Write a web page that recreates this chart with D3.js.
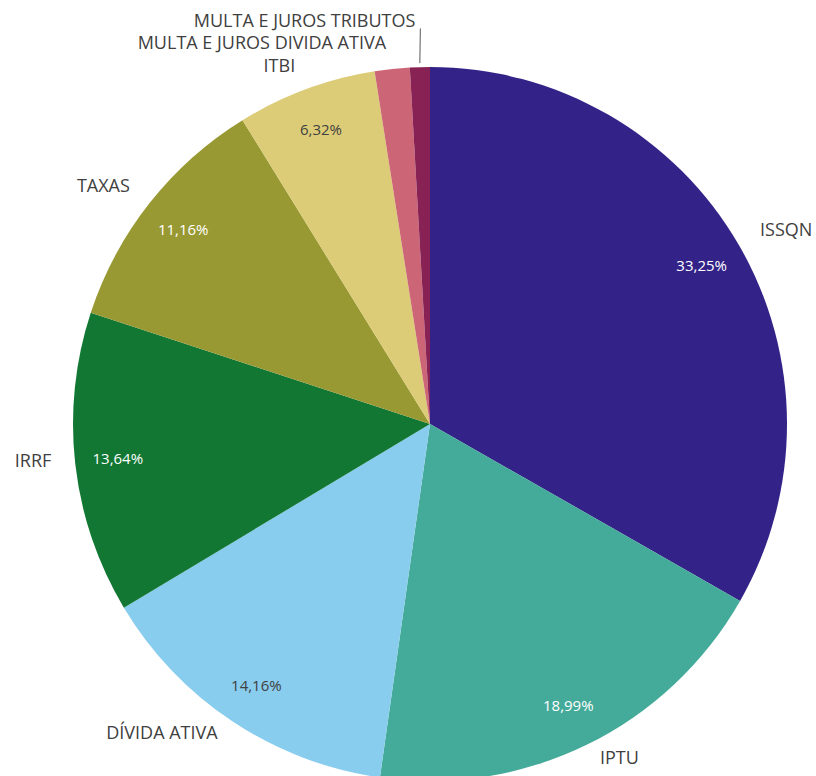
<!DOCTYPE html>
<html>
<head>
<meta charset="utf-8">
<script src="https://cdn.jsdelivr.net/npm/d3@7"></script>
<style>
  html, body { margin: 0; padding: 0; background: #fff; }
  svg { display: block; }
  text { font-family: "Open Sans", Lato, sans-serif; }
</style>
</head>
<body>
<svg id="chart" width="816" height="776"></svg>
<script>
// Revenue share by source (%)
const categories = ["ISSQN", "IPTU", "DÍVIDA ATIVA", "IRRF", "TAXAS", "ITBI",
  "MULTA E JUROS DIVIDA ATIVA", "MULTA E JUROS TRIBUTOS"];
const shares = [33.25, 18.99, 14.16, 13.64, 11.16, 6.32, 1.58, 0.90];
const colors = ["#332288", "#44AA99", "#88CCEE", "#117733", "#999933", "#DDCC77",
  "#CC6677", "#882255"];
const valueTextColors = ["#ffffff", "#ffffff", "#404040", "#ffffff", "#ffffff", "#404040",
  "#ffffff", "#ffffff"];
const showValue = [true, true, true, true, true, true, false, false];

const svg = d3.select("#chart");
const cx = 430, cy = 424, R = 357;

const data = categories.map((c, i) => ({ name: c, value: shares[i], i }));

const pie = d3.pie().sort(null).value(d => d.value);
const arcs = pie(data);

const arc = d3.arc().innerRadius(0).outerRadius(R);
const labelArc = d3.arc().innerRadius(R * 0.88).outerRadius(R * 0.88);
const outerArc = d3.arc().innerRadius(R + 20).outerRadius(R + 20);

const g = svg.append("g").attr("transform", `translate(${cx},${cy})`);

g.selectAll("path.slice")
  .data(arcs)
  .enter().append("path")
  .attr("class", "slice")
  .attr("d", arc)
  .attr("fill", d => colors[d.data.i]);

const fmt = v => d3.format(".2f")(v).replace(".", ",") + "%";

// value labels inside the slices
g.selectAll("text.value")
  .data(arcs.filter(d => showValue[d.data.i]))
  .enter().append("text")
  .attr("class", "value")
  .attr("transform", d => `translate(${labelArc.centroid(d)})`)
  .attr("text-anchor", "middle")
  .attr("dy", "0.35em")
  .attr("font-size", 15)
  .attr("fill", d => valueTextColors[d.data.i])
  .text(d => fmt(d.data.value));

// category labels outside the pie; thin slices near the top are stacked upward
const placed = [];
let prevY = null;
arcs.forEach(d => {
  const [x, y] = outerArc.centroid(d);
  const mid = (d.startAngle + d.endAngle) / 2;
  const right = mid < Math.PI;
  let ly = y - 5;
  let lx = right ? x + 4 : x - 4;
  if (d.data.i >= 6) {
    ly = prevY - 22.5;
    lx = x - 4;
  }
  prevY = ly;
  placed.push({ d, x: lx, y: ly, anchor: right ? "start" : "end" });
});

g.selectAll("text.cat")
  .data(placed)
  .enter().append("text")
  .attr("class", "cat")
  .attr("x", p => p.x)
  .attr("y", p => p.y)
  .attr("dy", "0.35em")
  .attr("text-anchor", p => p.anchor)
  .attr("font-size", 18)
  .attr("fill", "#404040")
  .text(p => p.d.data.name);

// leader line for the thinnest slice
const last = placed[placed.length - 1];
const tip = d3.arc().innerRadius(R + 2).outerRadius(R + 2).centroid(last.d);
g.append("line")
  .attr("x1", tip[0]).attr("y1", tip[1] - 2)
  .attr("x2", last.x + 5).attr("y2", last.y + 8)
  .attr("stroke", "#595959")
  .attr("stroke-width", 1);
</script>
</body>
</html>
